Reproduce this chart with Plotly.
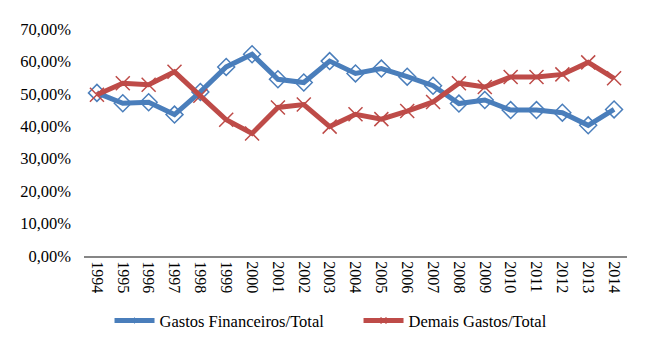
import plotly.graph_objects as go

years = [str(y) for y in range(1994, 2015)]
gastos_fin = [0.503, 0.471, 0.474, 0.436, 0.506, 0.583, 0.622, 0.545, 0.535, 0.601,
              0.563, 0.578, 0.553, 0.525, 0.470, 0.481, 0.450, 0.450, 0.442, 0.403, 0.452]
demais = [0.497, 0.533, 0.528, 0.568, 0.494, 0.420, 0.378, 0.458, 0.467, 0.399,
          0.437, 0.422, 0.447, 0.475, 0.533, 0.521, 0.552, 0.552, 0.560, 0.597, 0.548]
y_ticks = [0, 0.1, 0.2, 0.3, 0.4, 0.5, 0.6, 0.7]

BLUE = "#4A7EBB"
RED = "#BE4B48"
SERIF = "Times New Roman"

fig = go.Figure()
fig.add_trace(go.Scatter(
    x=years, y=gastos_fin, name="Gastos Financeiros/Total", mode="lines+markers",
    line=dict(color=BLUE, width=5), showlegend=False,
    marker=dict(symbol="diamond-open", size=13, color=BLUE, line=dict(width=1.5, color=BLUE)),
))
fig.add_trace(go.Scatter(
    x=years, y=demais, name="Demais Gastos/Total", mode="lines+markers",
    line=dict(color=RED, width=5), showlegend=False,
    marker=dict(symbol="x-thin-open", size=14, color=RED, line=dict(width=1.5, color=RED)),
))
# legend entries (Excel-style small markers)
fig.add_trace(go.Scatter(
    x=[None], y=[None], name="Gastos Financeiros/Total", mode="lines+markers",
    line=dict(color=BLUE, width=5),
    marker=dict(symbol="diamond", size=5, color=BLUE),
))
fig.add_trace(go.Scatter(
    x=[None], y=[None], name="Demais Gastos/Total", mode="lines+markers",
    line=dict(color=RED, width=5),
    marker=dict(symbol="x-thin-open", size=6, color=RED, line=dict(width=1.5, color=RED)),
))

fig.update_layout(
    width=642, height=348,
    margin=dict(l=71, r=23, t=14, b=100),
    paper_bgcolor="white", plot_bgcolor="white",
    separators=",.",
    font=dict(family=SERIF, size=16, color="#000000"),
    showlegend=True,
    legend=dict(orientation="h", x=0.047, xanchor="left", y=-0.285, yanchor="middle",
                font=dict(family=SERIF, size=16.5, color="#000"),
                itemwidth=40, tracegroupgap=0, entrywidth=194, entrywidthmode="pixels"),
    xaxis=dict(type="category", tickangle=90, showgrid=False, showline=True,
               linecolor="#868686", linewidth=2, ticks="", tickfont=dict(family=SERIF, size=16),
               range=[-0.5, 20.5], zeroline=False),
    yaxis=dict(range=[0, 0.7], tickvals=y_ticks, tickformat=".2%", showgrid=False,
               showline=False, zeroline=False, ticks="", tickfont=dict(family=SERIF, size=16.5),
               ticklabelstandoff=12),
)
fig.write_html("out.html")
